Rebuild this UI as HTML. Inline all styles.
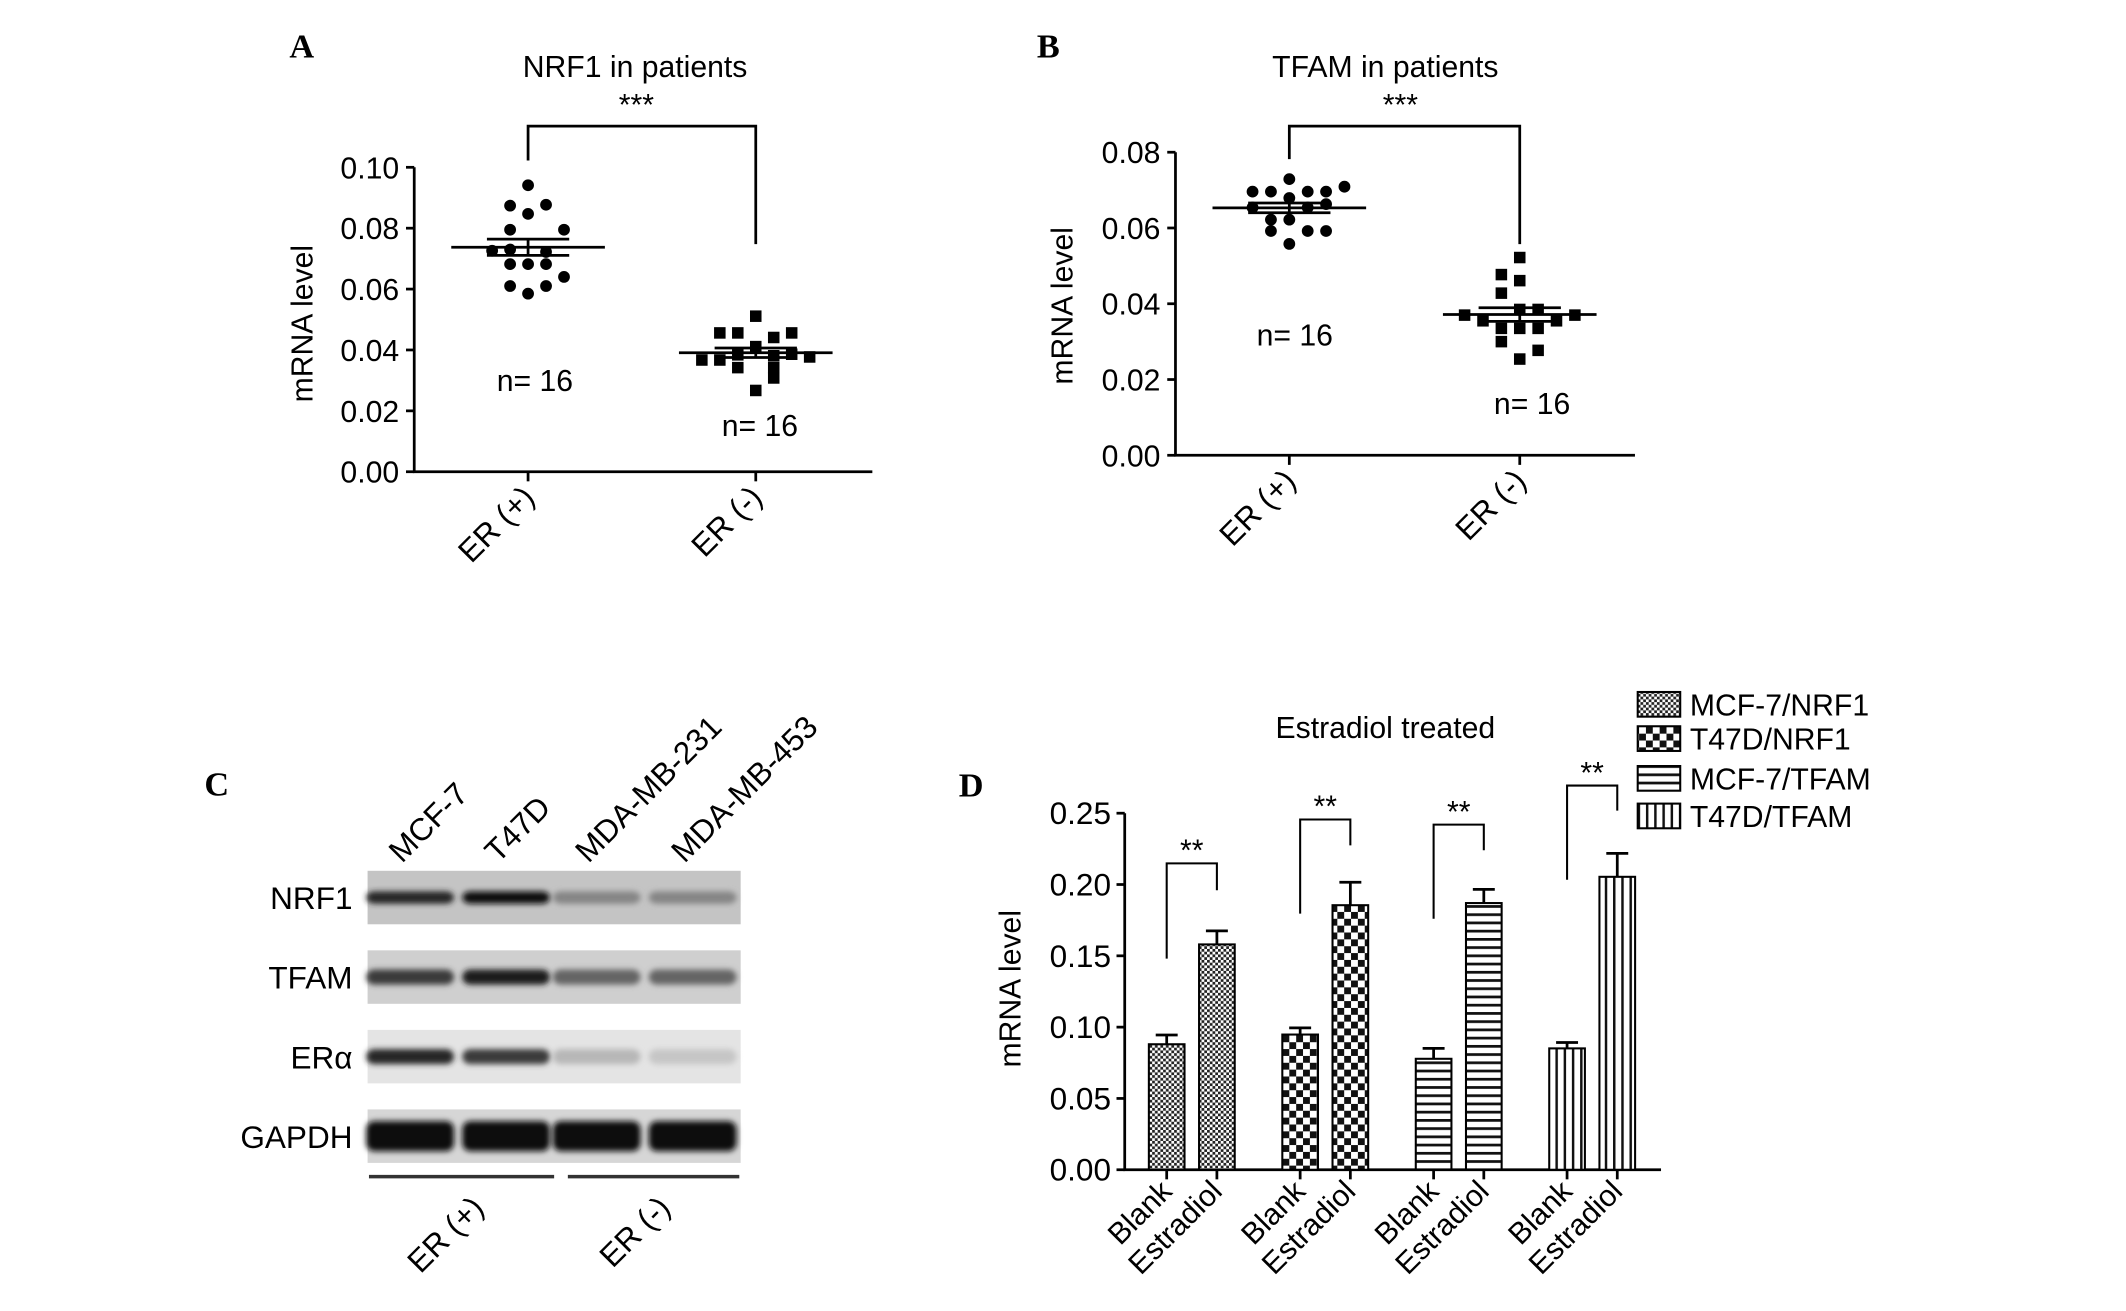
<!DOCTYPE html>
<html><head><meta charset="utf-8"><style>
html,body{margin:0;padding:0;background:#fff;}
svg{display:block;font-family:"Liberation Sans",Arial,sans-serif;}
</style></head><body>
<svg id="fig" width="2126" height="1311" viewBox="0 0 1550 956" preserveAspectRatio="none" xmlns="http://www.w3.org/2000/svg">
<defs>
<pattern id="pFine" width="4" height="4" patternUnits="userSpaceOnUse"><rect width="4" height="4" fill="#fff"/><rect width="2" height="2" fill="#222"/><rect x="2" y="2" width="2" height="2" fill="#222"/></pattern>
<pattern id="pCheck" width="10" height="10" patternUnits="userSpaceOnUse"><rect width="10" height="10" fill="#fff"/><rect width="5" height="5" fill="#111"/><rect x="5" y="5" width="5" height="5" fill="#111"/></pattern>
<pattern id="pHoriz" width="6" height="6" patternUnits="userSpaceOnUse"><rect width="6" height="6" fill="#fff"/><rect y="0" width="6" height="2" fill="#111"/></pattern>
<pattern id="pVert" width="6" height="6" patternUnits="userSpaceOnUse"><rect width="6" height="6" fill="#fff"/><rect x="0" width="1.8" height="6" fill="#111"/></pattern>
<filter id="blur" x="-20%" y="-50%" width="140%" height="200%"><feGaussianBlur stdDeviation="2.2"/></filter>
</defs>
<g id="root"></g>
</svg>
<script>
// ---- Panel A data ----
const aCategories = ["ER (+)", "ER (-)"];
const aPosValues = [0.0941,0.0874,0.0877,0.0847,0.0795,0.0795,0.0726,0.0730,0.0722,0.0682,0.0682,0.0682,0.064,0.061,0.061,0.0585];
const aPosJitter = [0,-1,1,0,-1,2,-2,-1,1,-1,0,1,2,-1,1,0];
const aNegValues = [0.0511,0.0456,0.0456,0.0456,0.0441,0.0411,0.0367,0.0367,0.0384,0.0381,0.0386,0.0377,0.0342,0.0342,0.0308,0.0267];
const aNegJitter = [0,-2,-1,2,1,0,-3,-2,-1,1,2,3,-1,1,1,0];
const aTicks = ["0.00","0.02","0.04","0.06","0.08","0.10"];
// ---- Panel B data ----
const bCategories = ["ER (+)", "ER (-)"];
const bPosValues = [0.0729,0.0709,0.0696,0.0696,0.0696,0.0696,0.0679,0.0663,0.0654,0.0654,0.0622,0.0622,0.0592,0.0592,0.0592,0.0558];
const bPosJitter = [0,3,-2,-1,1,2,0,2,-2,1,-1,0,-1,1,2,0];
const bNegValues = [0.0522,0.0477,0.0461,0.0428,0.0385,0.0385,0.0370,0.0370,0.0355,0.0355,0.0335,0.0335,0.0335,0.0300,0.0277,0.0254];
const bNegJitter = [0,-1,0,-1,0,1,-3,3,-2,2,-1,0,1,-1,1,0];
const bTicks = ["0.00","0.02","0.04","0.06","0.08"];
// ---- Panel D data ----
const dGroups = ["MCF-7/NRF1","T47D/NRF1","MCF-7/TFAM","T47D/TFAM"];
const dCategories = ["Blank","Estradiol"];
const dBlank = [0.088,0.0948,0.0778,0.0851];
const dBlankErr = [0.0065,0.0047,0.0073,0.0041];
const dEstradiol = [0.158,0.1855,0.187,0.2054];
const dEstradiolErr = [0.0095,0.0161,0.0096,0.0164];
const dTicks = ["0.00","0.05","0.10","0.15","0.20","0.25"];
const dSig = ["**","**","**","**"];
const dBracketTop = [0.2148,0.2456,0.242,0.2694];
const dBracketLeft = [0.148,0.1796,0.176,0.2033];
const dBracketRight = [0.196,0.2274,0.224,0.2518];
// ---- Panel C data ----
const cLanes = ["MCF-7","T47D","MDA-MB-231","MDA-MB-453"];
const cProteins = ["NRF1","TFAM","ERα","GAPDH"];
const cIntensity = [[0.9,1,0.45,0.45],[0.8,0.95,0.6,0.6],[0.9,0.8,0.22,0.15],[1,1,1,1]];

const NS="http://www.w3.org/2000/svg";
const root=document.getElementById('root');
function mk(tag,attrs,parent,text){const e=document.createElementNS(NS,tag);for(const k in attrs)e.setAttribute(k,attrs[k]);if(text!==undefined)e.textContent=text;(parent||root).appendChild(e);return e;}
function mean(a){return a.reduce((s,v)=>s+v,0)/a.length;}
function sem(a){const m=mean(a);return Math.sqrt(a.reduce((s,v)=>s+(v-m)*(v-m),0)/(a.length-1))/Math.sqrt(a.length);}

function scatterPanel(o){
  const g=mk('g',{});
  
  
  const y=v=>o.y0+(o.y1-o.y0)*(v/o.vmax);
  const lab=mk('text',{x:o.letterX,y:o.letterY,'font-family':'Liberation Serif,serif','font-weight':'bold','font-size':25},g,o.letter);
  
  
  const t=mk('text',{x:o.titleX,y:o.titleY,'text-anchor':'middle','font-size':22},g,o.title);
  
  
  const ax=mk('path',{d:`M${o.axX},${o.y1} L${o.axX},${o.y0} L${o.axEnd},${o.y0}`,stroke:'#000','stroke-width':2,fill:'none'},g);
  
  
  o.ticks.forEach(tk=>{const v=parseFloat(tk);const yy=y(v);
    mk('line',{x1:o.axX-6,x2:o.axX,y1:yy,y2:yy,stroke:'#000','stroke-width':2},g);
    const tl=mk('text',{x:o.axX-11,y:yy+8,'text-anchor':'end','font-size':22},g,tk);
    
    
  });
  const yl=mk('text',{x:0,y:0,transform:`translate(${o.ylX},${o.ylY}) rotate(-90)`,'text-anchor':'middle','font-size':22},g,'mRNA level');
  
  
  const groups=[[o.pos,o.posJ,'circle'],[o.neg,o.negJ,'square']];
  groups.forEach((gr,i)=>{
    const cx=o.catX[i];
    mk('line',{x1:cx,x2:cx,y1:o.y0,y2:o.y0+7,stroke:'#000','stroke-width':2},g);
    const xl=mk('text',{x:0,y:0,transform:`translate(${cx+6},${o.y0+20}) rotate(-45)`,'text-anchor':'end','font-size':23},g,o.cats[i]);
    
    
    gr[0].forEach((v,j)=>{const px=cx+gr[1][j]*o.step,py=y(v);let m;
      if(gr[2]==='circle'){m=mk('circle',{cx:px,cy:py,r:4.3,fill:'#000'},g);}
      else{m=mk('rect',{x:px-4.2,y:py-4.2,width:8.4,height:8.4,fill:'#000'},g);}
      
      
    });
    const m=mean(gr[0]),s=sem(gr[0]);
    const ml=mk('line',{x1:cx-56,x2:cx+56,y1:y(m),y2:y(m),stroke:'#000','stroke-width':2},g);
    
    
    [m+s,m-s].forEach(v=>{const sl=mk('line',{x1:cx-30,x2:cx+30,y1:y(v),y2:y(v),stroke:'#000','stroke-width':2},g);
      
      });
    mk('line',{x1:cx,x2:cx,y1:y(m+s),y2:y(m-s),stroke:'#000','stroke-width':2},g);
    const nt=mk('text',{x:o.nX[i],y:o.nY[i],'text-anchor':'middle','font-size':22},g,'n= '+gr[0].length);
    
    
  });
  const br=mk('path',{d:`M${o.catX[0]},${o.brL} L${o.catX[0]},${o.brT} L${o.catX[1]},${o.brT} L${o.catX[1]},${o.brR}`,stroke:'#000','stroke-width':2,fill:'none'},g);
  
  
  const st=mk('text',{x:o.starX,y:o.starY,'text-anchor':'middle','font-size':22},g,'***');
  
  
}

scatterPanel({name:'panel-a',letter:'A',letterX:211,letterY:42,title:'NRF1 in patients',titleX:463,titleY:56,
  axX:302,axEnd:636,y0:344,y1:122,vmax:0.10,ticks:aTicks,ylX:228,ylY:236,cats:aCategories,catX:[385,551],
  pos:aPosValues,posJ:aPosJitter,neg:aNegValues,negJ:aNegJitter,step:13.1,nX:[390,554],nY:[285,318],
  brT:92,brL:117,brR:178,starX:464,starY:84});
scatterPanel({name:'panel-b',letter:'B',letterX:756,letterY:42,title:'TFAM in patients',titleX:1010,titleY:56,
  axX:857,axEnd:1192,y0:332,y1:111,vmax:0.08,ticks:bTicks,ylX:782,ylY:223,cats:bCategories,catX:[940,1108],
  pos:bPosValues,posJ:bPosJitter,neg:bNegValues,negJ:bNegJitter,step:13.4,nX:[944,1117],nY:[252,302],
  brT:92,brL:116,brR:178,starX:1021,starY:84});

// ---- Panel C (western blot) ----
(function(){
  const g=mk('g',{});
  
  
  const L=mk('text',{x:149,y:580,'font-family':'Liberation Serif,serif','font-weight':'bold','font-size':25},g,'C');
  
  
  const x0=268,x1=540,rowsY=[635,693,751,809],rowH=39;
  const laneX=[299,369,435,505];
  const bg=['#c4c4c4','#cfcfcf','#e4e4e4','#d6d6d6'];
  cProteins.forEach((p,i)=>{
    const r=mk('rect',{x:x0,y:rowsY[i],width:x1-x0,height:rowH,fill:bg[i]},g);
    
    
    const t=mk('text',{x:257,y:rowsY[i]+28,'text-anchor':'end','font-size':23},g,p);
    
    
    cIntensity[i].forEach((v,j)=>{
      const h=(i===3?22:(i===0?9:11));
      const c=Math.round(230-215*v);
      const b=mk('rect',{x:laneX[j]-32,y:rowsY[i]+rowH/2-h/2,width:64,height:h,rx:6,fill:`rgb(${c},${c},${c})`,filter:'url(#blur)'},g);
      
      
    });
  });
  cLanes.forEach((n,j)=>{
    const t=mk('text',{x:0,y:0,transform:`translate(${laneX[j]-6},${630}) rotate(-45)`,'font-size':23},g,n);
    
    
  });
  mk('line',{x1:269,x2:404,y1:858,y2:858,stroke:'#333','stroke-width':2.5},g);
  mk('line',{x1:414,x2:539,y1:858,y2:858,stroke:'#333','stroke-width':2.5},g);
  [["ER (+)",354],["ER (-)",490]].forEach(a=>{
    const t=mk('text',{x:0,y:0,transform:`translate(${a[1]},${882}) rotate(-45)`,'text-anchor':'end','font-size':23},g,a[0]);
    
    
  });
})();

// ---- Panel D (bar chart) ----
(function(){
  const g=mk('g',{});
  
  
  const axX=820,y0=853,y1=593,vmax=0.25,axEnd=1211;
  const y=v=>y0-(y0-y1)*(v/vmax);
  const blankX=[850.6,947.9,1045.2,1142.5],gap=36.6,bw=26;
  const pats=['url(#pFine)','url(#pCheck)','url(#pHoriz)','url(#pVert)'];
  const L=mk('text',{x:699,y:581,'font-family':'Liberation Serif,serif','font-weight':'bold','font-size':25},g,'D');
  
  
  const t=mk('text',{x:1010,y:538,'text-anchor':'middle','font-size':22},g,'Estradiol treated');
  
  
  const ax=mk('path',{d:`M${axX},${y1} L${axX},${y0} L${axEnd},${y0}`,stroke:'#000','stroke-width':2,fill:'none'},g);
  
  
  dTicks.forEach(tk=>{const yy=y(parseFloat(tk));
    mk('line',{x1:axX-6,x2:axX,y1:yy,y2:yy,stroke:'#000','stroke-width':2},g);
    const tl=mk('text',{x:axX-10,y:yy+8,'text-anchor':'end','font-size':23},g,tk);
    
    
  });
  const yl=mk('text',{x:0,y:0,transform:`translate(744,721) rotate(-90)`,'text-anchor':'middle','font-size':22},g,'mRNA level');
  
  
  dGroups.forEach((grp,i)=>{
    const xs=[blankX[i],blankX[i]+gap],vals=[dBlank[i],dEstradiol[i]],errs=[dBlankErr[i],dEstradiolErr[i]];
    xs.forEach((cx,k)=>{
      const b=mk('rect',{x:cx-bw/2,y:y(vals[k]),width:bw,height:y0-y(vals[k]),fill:pats[i],stroke:'#000','stroke-width':1.5},g);
      
      
      const e=mk('path',{d:`M${cx},${y(vals[k])} L${cx},${y(vals[k]+errs[k])} M${cx-8},${y(vals[k]+errs[k])} L${cx+8},${y(vals[k]+errs[k])}`,stroke:'#000','stroke-width':2,fill:'none'},g);
      
      
      mk('line',{x1:cx,x2:cx,y1:y0,y2:y0+7,stroke:'#000','stroke-width':2},g);
      const xl=mk('text',{x:0,y:0,transform:`translate(${cx+5},${y0+17}) rotate(-45)`,'text-anchor':'end','font-size':22},g,dCategories[k]);
      
      
    });
    const br=mk('path',{d:`M${xs[0]},${y(dBracketLeft[i])} L${xs[0]},${y(dBracketTop[i])} L${xs[1]},${y(dBracketTop[i])} L${xs[1]},${y(dBracketRight[i])}`,stroke:'#000','stroke-width':1.5,fill:'none'},g);
    
    
    const st=mk('text',{x:(xs[0]+xs[1])/2,y:y(dBracketTop[i])-2,'text-anchor':'middle','font-size':22},g,dSig[i]);
    
    
    const ly=[513.6,538.6,567.6,595][i];
    const lb=mk('rect',{x:1194,y:ly-9,width:31,height:18,fill:pats[i],stroke:'#000','stroke-width':1.5},g);
    
    
    const lt=mk('text',{x:1232,y:ly+8,'font-size':22},g,grp);
    
    
  });
})();
</script>
</body></html>
